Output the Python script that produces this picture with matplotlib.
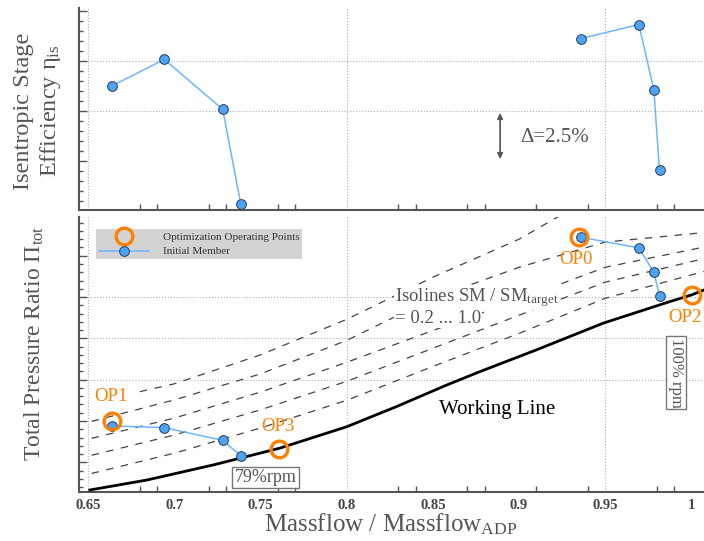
import numpy as np
import matplotlib
matplotlib.use("Agg")
from matplotlib import pyplot as plt
from matplotlib.lines import Line2D
from matplotlib.ticker import MultipleLocator, FixedLocator

plt.rcParams['font.family'] = ['Liberation Serif', 'DejaVu Serif']
plt.rcParams['mathtext.fontset'] = 'custom'
plt.rcParams['mathtext.rm'] = 'Liberation Serif'
plt.rcParams['mathtext.it'] = 'Liberation Serif:italic'

# members (same massflow in both panels)
x_low = [0.6637, 0.6942, 0.7281, 0.7385]
x_high = [0.9357, 0.9695, 0.9782, 0.9815]
eta_low = [88.75, 90.08, 87.58, 82.87]
eta_high = [91.12, 91.82, 88.55, 84.53]
pr_low = [1.188, 1.184, 1.153, 1.116]
pr_high = [1.645, 1.619, 1.560, 1.503]

# optimization operating points
op_names = ["OP0", "OP1", "OP2", "OP3"]
op_x = [0.9349, 0.6637, 1.0001, 0.7609]
op_y = [1.646, 1.201, 1.505, 1.132]
op_label_x = [0.9329, 0.6632, 0.9962, 0.7603]
op_label_y = [1.592, 1.259, 1.451, 1.186]

# working line
wl_x = [0.651, 0.684, 0.723, 0.761, 0.800, 0.829, 0.858, 0.877, 0.910, 0.949, 0.9875, 1.000, 1.0073]
wl_y = [1.033, 1.057, 1.094, 1.134, 1.186, 1.235, 1.287, 1.319, 1.372, 1.437, 1.489, 1.505, 1.517]

# surge margin isolines SM/SM_target = 0.2 ... 1.0
iso_x = [0.652, 0.70, 0.75, 0.80, 0.85, 0.90, 0.95, 1.0073]
iso_02 = [1.073, 1.122, 1.183, 1.250, 1.332, 1.412, 1.497, 1.562]
iso_04 = [1.117, 1.166, 1.227, 1.296, 1.376, 1.456, 1.536, 1.593]
iso_06 = [1.158, 1.207, 1.270, 1.342, 1.419, 1.494, 1.572, 1.621]
iso_08 = [1.199, 1.251, 1.314, 1.395, 1.497, 1.572, 1.633, 1.656]
iso_10_x = [0.68, 0.70, 0.75, 0.80, 0.85, 0.90, 0.925]
iso_10 = [1.271, 1.290, 1.360, 1.446, 1.548, 1.640, 1.700]

xtick_vals = [0.65, 0.70, 0.75, 0.80, 0.85, 0.90, 0.95, 1.00]
xtick_labels = ["0.65", "0.7", "0.75", "0.8", "0.85", "0.9", "0.95", "1"]
x_minor = [0.65, 0.68, 0.69, 0.72, 0.73, 0.76, 0.77, 0.80, 0.83, 0.84,
           0.87, 0.88, 0.91, 0.94, 0.95, 0.98, 0.99]
x_grid = [0.65, 0.80, 0.95]

grey = '#555555'
orange = '#ff8000'
blue_face = '#4da3f5'
blue_line = '#6db6ff'

fig = plt.figure(figsize=(7.04, 5.41), dpi=100)
ax_top = fig.add_axes([0.1122, 0.6118, 0.8878, 0.3734])
ax_bot = fig.add_axes([0.1122, 0.0911, 0.8878, 0.5083])

for ax in (ax_top, ax_bot):
    ax.set_xlim(0.6447, 1.0073)
    for s in ('top', 'right'):
        ax.spines[s].set_visible(False)
    for s in ('left', 'bottom'):
        ax.spines[s].set_color(grey)
        ax.spines[s].set_linewidth(1.5)
    ax.set_xticks(xtick_vals)
    ax.xaxis.set_minor_locator(FixedLocator(x_minor))
    ax.tick_params(axis='x', which='major', length=0, pad=5)
    ax.tick_params(axis='x', which='minor', direction='in', length=4, width=1, color=grey)
    ax.tick_params(axis='y', which='major', direction='in', length=6, width=1, color=grey, labelleft=False)
    ax.tick_params(axis='y', which='minor', direction='in', length=3, width=1, color=grey)
    for xv in x_grid:
        ax.axvline(xv, color='#b0b0b0', lw=0.8, ls=':', zorder=0)

# ---- top panel: efficiency
ax_top.set_ylim(82.55, 92.65)
ax_top.yaxis.set_major_locator(MultipleLocator(2.5))
ax_top.yaxis.set_minor_locator(MultipleLocator(0.5))
ax_top.set_xticklabels([])
for yv in [87.5, 90.0]:
    ax_top.axhline(yv, color='#b0b0b0', lw=0.8, ls=':', zorder=0)

for xs, ys in ((x_low, eta_low), (x_high, eta_high)):
    ax_top.plot(xs, ys, color=blue_line, lw=1.1, marker='o', ms=7,
                mfc=blue_face, mec='#2a3d55', mew=0.7, zorder=5)

ax_top.annotate('', xy=(0.889, 85.1), xytext=(0.889, 87.4),
                arrowprops=dict(arrowstyle='<|-|>', color=grey, lw=1.2,
                                mutation_scale=8, shrinkA=0, shrinkB=0))
ax_top.text(0.9005, 86.2, 'Δ=2.5%', color=grey, fontsize=15, ha='left', va='center')

# ---- bottom panel: pressure ratio
ax_bot.set_ylim(1.0288, 1.6944)
ax_bot.yaxis.set_major_locator(MultipleLocator(0.1))
ax_bot.yaxis.set_minor_locator(MultipleLocator(0.02))
ax_bot.set_xticklabels(xtick_labels, fontsize=10.5, fontweight='bold', color='#444444')
for yv in [1.3, 1.4, 1.5]:
    ax_bot.axhline(yv, color='#b0b0b0', lw=0.8, ls=':', zorder=0)

for ys in (iso_02, iso_04, iso_06, iso_08):
    ax_bot.plot(iso_x, ys, color='#444444', lw=0.9, ls=(0, (6, 6)), zorder=2)
ax_bot.plot(iso_10_x, iso_10, color='#444444', lw=0.9, ls=(0, (6, 6)), zorder=2)

ax_bot.plot(wl_x, wl_y, color='black', lw=2.0, zorder=3)

for xs, ys in ((x_low, pr_low), (x_high, pr_high)):
    ax_bot.plot(xs, ys, color=blue_line, lw=1.1, marker='o', ms=7,
                mfc=blue_face, mec='#2a3d55', mew=0.7, zorder=5)

ax_bot.plot(op_x, op_y, ls='none', marker='o', ms=12, mfc='none', mec=orange, mew=2.4, zorder=6)
for name, lx, ly in zip(op_names, op_label_x, op_label_y):
    ax_bot.text(lx, ly, name, color=orange, fontsize=13.5, ha='center', va='center', zorder=7)

ax_bot.text(0.887, 1.229, 'Working Line', color='black', fontsize=15, ha='center', va='center')
iso_box = dict(boxstyle='square,pad=0.05', fc='white', ec='none')
ax_bot.text(0.828, 1.498, r'Isolines SM / SM$_{\mathrm{target}}$', color=grey,
            fontsize=13.5, ha='left', va='center', zorder=4, bbox=iso_box)
ax_bot.text(0.828, 1.449, '= 0.2 ... 1.0', color=grey, fontsize=13.5, ha='left', va='center',
            zorder=4, bbox=iso_box)

box = dict(boxstyle='square,pad=0.12', fc='white', ec='#777777', lw=1)
ax_bot.text(0.7529, 1.0637, '79%rpm', color=grey, fontsize=13, ha='center', va='center', bbox=box)
ax_bot.text(0.9911, 1.3174, '100% rpm', color=grey, fontsize=12, ha='center', va='center',
            rotation=-90, bbox=box)

handles = [
    Line2D([], [], ls='none', marker='o', ms=12, mfc='none', mec=orange, mew=2.4),
    Line2D([], [], color=blue_line, lw=1.1, marker='o', ms=7, mfc=blue_face, mec='#2a3d55', mew=0.7),
]
leg = ax_bot.legend(handles, ['Optimization Operating Points', 'Initial Member'],
                    loc='upper left', bbox_to_anchor=(0.028, 0.955), fontsize=8,
                    frameon=True, fancybox=False, facecolor='#d3d3d3', edgecolor='none',
                    framealpha=1, borderpad=0.25, labelspacing=0.45, handlelength=4.5,
                    handletextpad=1.2, borderaxespad=0)
for t in leg.get_texts():
    t.set_color('#333333')

# axis labels
fig.text(38 / 704, 1 - 111 / 541, 'Isentropic Stage\nEfficiency η$_{\\mathrm{is}}$',
         rotation=90, ha='center', va='center', fontsize=17.5, color=grey, multialignment='center')
fig.text(34 / 704, 1 - 343 / 541, 'Total Pressure Ratio Π$_{\\mathrm{tot}}$',
         rotation=90, ha='center', va='center', fontsize=17, color=grey)
fig.text(391 / 704, 1 - 531 / 541, 'Massflow / Massflow$_{\\mathrm{ADP}}$',
         ha='center', va='baseline', fontsize=18, color=grey)

fig.savefig('out.png', dpi=100)
